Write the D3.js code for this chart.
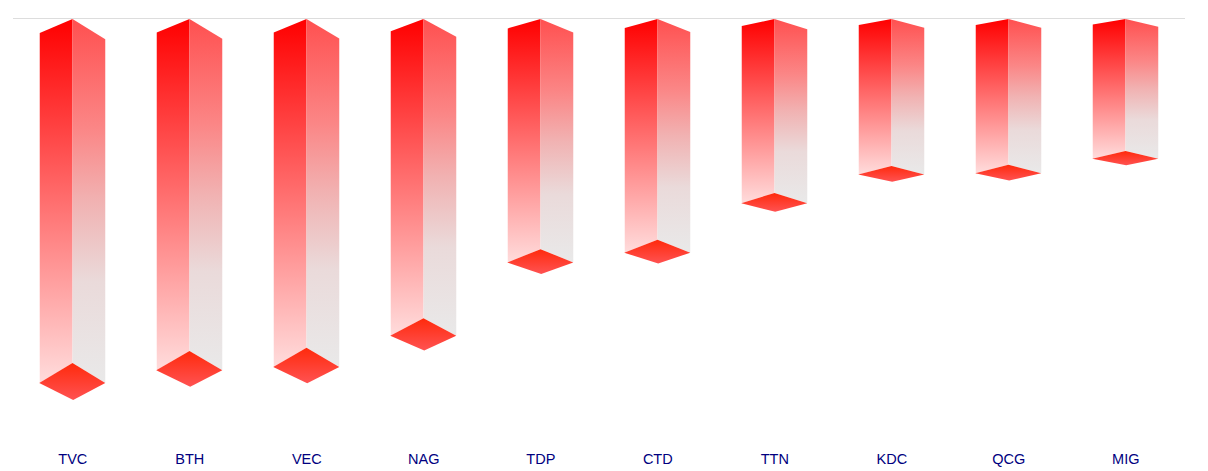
<!DOCTYPE html>
<html>
<head>
<meta charset="utf-8">
<script src="https://cdn.jsdelivr.net/npm/d3@7"></script>
<style>
  html, body { margin: 0; background: #fff; overflow: hidden; }
  svg { display: block; }
</style>
</head>
<body>
<script>
const w = 1208;
const h = 471;

// Relative to the tallest bar
const categories = ["TVC", "BTH", "VEC", "NAG", "TDP", "CTD", "TTN", "KDC", "QCG", "MIG"];
const values = [100, 96.5, 95.6, 87, 66.9, 64.2, 50.6, 42.7, 42.4, 38.4];

const topY = 18.5;

const svg = d3.select("body").append("svg").attr("width", w).attr("height", h);
const defs = svg.append("defs");

function gradient(id, stops) {
  const g = defs.append("linearGradient")
    .attr("id", id)
    .attr("x1", 0).attr("y1", 0)
    .attr("x2", 0).attr("y2", 1);
  stops.forEach(function (s) {
    g.append("stop").attr("offset", s[0]).attr("stop-color", s[1]);
  });
}
gradient("leftFace", [[0, "#ff0000"], [1, "#ffdcdc"]]);
gradient("rightFace", [[0, "#ff5050"], [0.3, "#fb8686"], [0.5, "#f1b2b2"], [0.72, "#eadada"], [1, "#e9e9e9"]]);
gradient("baseFace", [[0, "#ff2a0c"], [1, "#ff5252"]]);

const xScale = d3.scaleBand()
  .domain(categories)
  .range([14, 1184])
  .paddingInner(0.44)
  .paddingOuter(0.22);

const yScale = d3.scaleLinear()
  .domain([0, 100])
  .range([topY + 0.5, 363]);

// depth of the box in y grows with the bar, that's the perspective in the original
const depthScale = d3.scaleLinear()
  .domain([0, 100])
  .range([0, 37]);

// grid line at the top
svg.append("line")
  .attr("x1", 13).attr("x2", 1185)
  .attr("y1", topY).attr("y2", topY)
  .attr("stroke", "#dddddd")
  .attr("stroke-width", 1);

const bars = svg.selectAll("g.bar")
  .data(categories.map(function (c, i) { return { name: c, value: values[i] }; }))
  .enter()
  .append("g")
  .attr("class", "bar");

function pts(list) {
  return list.map(function (p) { return p.join(","); }).join(" ");
}

bars.append("polygon")
  .attr("fill", "url(#leftFace)")
  .attr("points", function (d) {
    const x0 = xScale(d.name), xm = x0 + xScale.bandwidth() / 2;
    const depth = depthScale(d.value), y = yScale(d.value);
    return pts([[x0, yScale(0) + depth * 0.38], [xm, yScale(0)], [xm, y], [x0, y + depth * 0.54]]);
  });

bars.append("polygon")
  .attr("fill", "url(#rightFace)")
  .attr("points", function (d) {
    const x0 = xScale(d.name), xm = x0 + xScale.bandwidth() / 2, x1 = x0 + xScale.bandwidth();
    const depth = depthScale(d.value), y = yScale(d.value);
    return pts([[xm, yScale(0)], [x1, yScale(0) + depth * 0.55], [x1, y + depth * 0.54], [xm, y]]);
  });

bars.append("polygon")
  .attr("fill", "url(#baseFace)")
  .attr("points", function (d) {
    const x0 = xScale(d.name), xm = x0 + xScale.bandwidth() / 2, x1 = x0 + xScale.bandwidth();
    const depth = depthScale(d.value), y = yScale(d.value);
    return pts([[xm, y], [x1, y + depth * 0.54], [xm + 0.7, y + depth], [x0 - 0.5, y + depth * 0.54]]);
  });

// category axis, no line or ticks
const xAxis = d3.axisBottom(xScale).tickSize(0).tickPadding(0);
const axisG = svg.append("g")
  .attr("transform", "translate(0.3,454)")
  .call(xAxis);
axisG.select(".domain").remove();
axisG.selectAll("text")
  .attr("font-family", "'Liberation Sans', Arial, sans-serif")
  .attr("font-size", "14.5px")
  .attr("fill", "#000080");
</script>
</body>
</html>
